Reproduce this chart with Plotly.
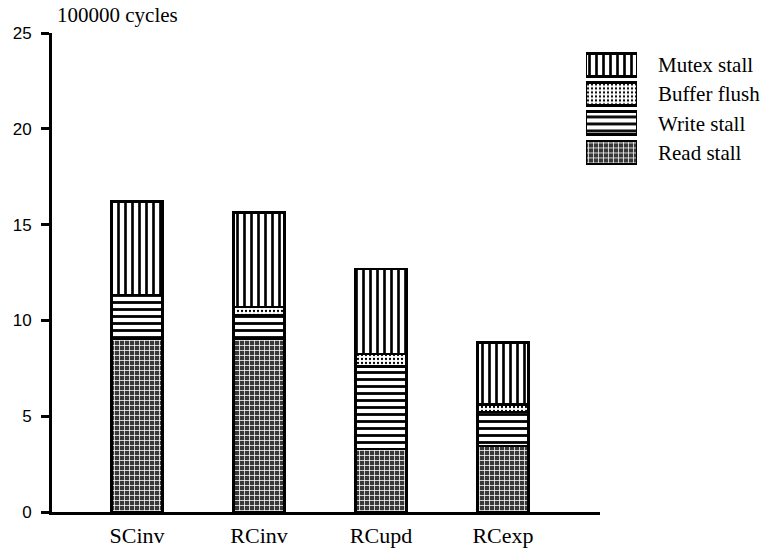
import plotly.graph_objects as go

# Stall breakdown per protocol, in units of 100000 cycles
protocols = ["SCinv", "RCinv", "RCupd", "RCexp"]
read_stall = [9.02, 9.02, 3.28, 3.45]
write_stall = [2.30, 1.26, 4.31, 1.78]
buffer_flush = [0.0, 0.43, 0.66, 0.38]
mutex_stall = [4.88, 4.91, 4.43, 3.24]

series_names = ["Read stall", "Write stall", "Buffer flush", "Mutex stall"]
y_ticks = [0, 5, 10, 15, 20, 25]

SERIF = "Liberation Serif, DejaVu Serif, Times New Roman, serif"
SANS = "Liberation Sans, Arial, sans-serif"

patterns = {
    "Read stall": dict(shape="+", fgcolor="white", bgcolor="#383838", size=5, solidity=0.28, fillmode="replace"),
    "Write stall": dict(shape="-", fgcolor="black", bgcolor="white", size=7, solidity=0.4, fillmode="replace"),
    "Buffer flush": dict(shape=".", fgcolor="black", bgcolor="white", size=4, solidity=0.25, fillmode="replace"),
    "Mutex stall": dict(shape="|", fgcolor="black", bgcolor="white", size=7, solidity=0.38, fillmode="replace"),
}
values = {
    "Read stall": read_stall,
    "Write stall": write_stall,
    "Buffer flush": buffer_flush,
    "Mutex stall": mutex_stall,
}

fig = go.Figure()

# Stacked bars
for name in series_names:
    fig.add_trace(go.Bar(
        x=protocols, y=values[name], name=name, width=0.42,
        marker=dict(color="white", pattern=patterns[name],
                    line=dict(color="black", width=2.5)),
        showlegend=False, xaxis="x", yaxis="y",
    ))

# Key: one swatch per series on its own small axis pair
for name in series_names:
    fig.add_trace(go.Bar(
        x=[1], y=[name], orientation="h", width=0.79,
        marker=dict(color="white", pattern=patterns[name],
                    line=dict(color="black", width=2.5)),
        showlegend=False, xaxis="x2", yaxis="y2", hoverinfo="skip",
    ))

W, H = 782, 548
L, R, T, B = 52, 0, 33, 32
pw = W - L - R
ph = H - T - B

def px_x(p):
    return (p - L) / pw

def px_y(p):
    return (H - B - p) / ph

fig.update_layout(
    width=W, height=H,
    margin=dict(l=L, r=R, t=T, b=B),
    paper_bgcolor="white", plot_bgcolor="white",
    barmode="stack",
    showlegend=False,
    xaxis=dict(
        domain=[0, px_x(600)],
        type="category", categoryorder="array", categoryarray=protocols,
        range=[-0.697, 3.795],
        showline=True, linecolor="black", linewidth=3,
        ticks="", showgrid=False, zeroline=False,
        ticklabelstandoff=2,
        tickfont=dict(family=SERIF, size=22, color="black"),
    ),
    yaxis=dict(
        range=[0, 25], tickvals=y_ticks,
        showline=True, linecolor="black", linewidth=3,
        ticks="outside", ticklen=8, tickwidth=3, tickcolor="black",
        ticklabelstandoff=6,
        showgrid=False, zeroline=False,
        tickfont=dict(family=SANS, size=17, color="black"),
    ),
    xaxis2=dict(
        domain=[px_x(586), px_x(637)], range=[0, 1], anchor="y2",
        visible=False, fixedrange=True,
    ),
    yaxis2=dict(
        domain=[px_y(168), px_y(50.6)], anchor="x2", side="right",
        type="category", categoryorder="array", categoryarray=series_names,
        range=[-0.5, 3.5],
        showline=False, showgrid=False, zeroline=False, ticks="",
        ticklabelstandoff=20,
        tickfont=dict(family=SERIF, size=21, color="black"),
    ),
    annotations=[dict(
        text="100000 cycles", xref="paper", yref="paper",
        x=px_x(55), y=px_y(15), xanchor="left", yanchor="middle",
        showarrow=False, font=dict(family=SERIF, size=21, color="black"),
    )],
)

fig.write_html("out.html")
